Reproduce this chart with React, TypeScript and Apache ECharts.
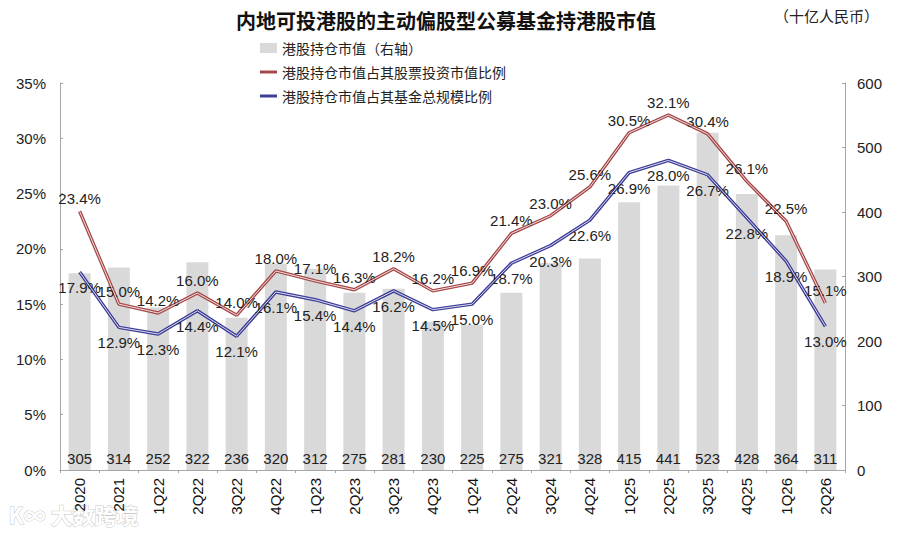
import React, { useEffect, useRef } from "react";
import * as echarts from "echarts";

const categories = ["2020", "2021", "1Q22", "2Q22", "3Q22", "4Q22", "1Q23", "2Q23", "3Q23", "4Q23", "1Q24", "2Q24", "3Q24", "4Q24", "1Q25", "2Q25", "3Q25", "4Q25", "1Q26", "2Q26"];
const holdingValue = [305, 314, 252, 322, 236, 320, 312, 275, 281, 230, 225, 275, 321, 328, 415, 441, 523, 428, 364, 311];
const shareOfStock = [23.4, 15.0, 14.2, 16.0, 14.0, 18.0, 17.1, 16.3, 18.2, 16.2, 16.9, 21.4, 23.0, 25.6, 30.5, 32.1, 30.4, 26.1, 22.5, 15.1];
const shareOfFund = [17.9, 12.9, 12.3, 14.4, 12.1, 16.1, 15.4, 14.4, 16.2, 14.5, 15.0, 18.7, 20.3, 22.6, 26.9, 28.0, 26.7, 22.8, 18.9, 13.0];
const leftTicks = { min: 0, max: 35, interval: 5 };
const rightTicks = { min: 0, max: 600, interval: 100 };

const nameBar = "港股持仓市值（右轴）";
const nameRed = "港股持仓市值占其股票投资市值比例";
const nameBlue = "港股持仓市值占其基金总规模比例";

const FONT = "'Liberation Sans', Arial, 'Noto Sans CJK SC', sans-serif";
const CJK = "'Noto Sans CJK SC', 'Liberation Sans', sans-serif";
const lineIcon = "path://M0,0 L20,0 L20,3.5 L0,3.5 Z";

export default function App() {
  const ref = useRef<HTMLDivElement>(null);
  useEffect(() => {
    if (!ref.current) return;
    const chart = echarts.init(ref.current, undefined, { renderer: "svg" });
    const axisColor = "#a6a6a6";
    const pct = (p: any) => Number(p.value).toFixed(1) + "%";
    chart.setOption({
      animation: false,
      backgroundColor: "#ffffff",
      textStyle: { fontFamily: FONT },
      title: {
        text: "内地可投港股的主动偏股型公募基金持港股市值",
        left: 441,
        textAlign: "center",
        top: 5,
        textStyle: { fontFamily: CJK, fontSize: 20, fontWeight: "bold", color: "#111" },
      },
      graphic: [
        {
          type: "text",
          left: 774,
          top: 8,
          style: { text: "（十亿人民币）", fontFamily: CJK, fontSize: 15, fill: "#222" },
        },
        {
          type: "text",
          left: 8,
          top: 502,
          style: { text: "K∞ 大数跨境", fontFamily: CJK, fontSize: 22, fontWeight: "bold", fill: "#ffffff", stroke: "#c8c8c8", lineWidth: 1 },
        },
      ],
      legend: {
        data: [
          { name: nameBar, icon: "rect", itemStyle: { color: "#d9d9d9" } },
          { name: nameRed, icon: lineIcon },
          { name: nameBlue, icon: lineIcon },
        ],
        orient: "vertical",
        left: 255,
        top: 36,
        itemGap: 10,
        itemWidth: 17,
        itemHeight: 10,
        textStyle: { fontFamily: CJK, fontSize: 14, color: "#222" },
      },
      grid: { left: 60, right: 55, top: 83, bottom: 65, containLabel: false },
      xAxis: {
        type: "category",
        data: categories,
        axisLine: { lineStyle: { color: axisColor } },
        axisTick: { show: true, length: 3, lineStyle: { color: axisColor } },
        axisLabel: { rotate: 90, fontSize: 15, color: "#111", margin: 8, fontFamily: FONT },
      },
      yAxis: [
        {
          type: "value",
          ...leftTicks,
          splitLine: { show: false },
          axisLine: { show: true, lineStyle: { color: axisColor } },
          axisTick: { show: true, inside: true, length: 3, lineStyle: { color: axisColor } },
          axisLabel: { formatter: "{value}%", fontSize: 15, color: "#222", margin: 14 },
        },
        {
          type: "value",
          ...rightTicks,
          splitLine: { show: false },
          axisLine: { show: true, lineStyle: { color: axisColor } },
          axisTick: { show: true, inside: true, length: 3, lineStyle: { color: axisColor } },
          axisLabel: { fontSize: 15, color: "#222", margin: 12 },
        },
      ],
      series: [
        {
          name: nameBar,
          type: "bar",
          yAxisIndex: 1,
          data: holdingValue,
          barWidth: "56%",
          itemStyle: { color: "#d9d9d9" },
          label: { show: true, position: "insideBottom", distance: 4, fontSize: 15, color: "#222" },
        },
        {
          name: nameRed,
          type: "line",
          yAxisIndex: 0,
          data: shareOfStock,
          symbol: "circle",
          symbolSize: 0.01,
          lineStyle: { color: "#a5484a", width: 3.4 },
          itemStyle: { color: "#a5484a" },
          label: { show: true, position: "top", distance: 5, fontSize: 15, color: "#222", formatter: pct },
          z: 3,
        },
        {
          name: nameRed + "-inner",
          type: "line",
          yAxisIndex: 0,
          data: shareOfStock,
          symbol: "none",
          silent: true,
          lineStyle: { color: "#f3dcdc", width: 1 },
          z: 4,
        },
        {
          name: nameBlue,
          type: "line",
          yAxisIndex: 0,
          data: shareOfFund,
          symbol: "circle",
          symbolSize: 0.01,
          lineStyle: { color: "#3c3c96", width: 3.4 },
          itemStyle: { color: "#3c3c96" },
          label: { show: true, position: "bottom", distance: 8, fontSize: 15, color: "#222", formatter: pct },
          z: 3,
        },
        {
          name: nameBlue + "-inner",
          type: "line",
          yAxisIndex: 0,
          data: shareOfFund,
          symbol: "none",
          silent: true,
          lineStyle: { color: "#dcdcf3", width: 1 },
          z: 4,
        },
      ],
    });
    return () => chart.dispose();
  }, []);
  return (
    <div
      ref={ref}
      style={{ position: "fixed", left: 0, top: 0, width: 900, height: 535, background: "#fff" }}
    />
  );
}
